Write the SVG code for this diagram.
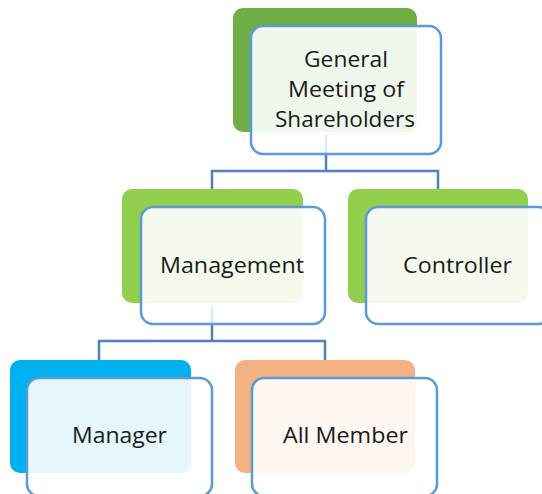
<svg xmlns="http://www.w3.org/2000/svg" width="542" height="494" viewBox="0 0 542 494">
  <style>
    .back { stroke: none; }
    .face { fill: #ffffff; stroke: none; }
    .tint { fill-opacity: 0.1; stroke: none; }
    .edge { fill: none; stroke: #5b9bd5; stroke-width: 2.5; }
    .label { font-family: "Open Sans", "Liberation Sans", sans-serif; font-size: 22px; fill: #1a1a1a; text-anchor: middle; }
    .link { fill: none; stroke: #4f81bd; stroke-width: 2.5; }
    .ghost { fill: none; stroke: #dfe9f5; stroke-width: 2.5; }
    .g-dark { fill: #70ad47; }
    .g-light { fill: #92d050; }
    .blue { fill: #00b0f0; }
    .peach { fill: #f4b183; }
  </style>

  <!-- back tabs sit under everything -->
  <g id="tabs">
    <rect class="back g-dark" x="233" y="8" width="184" height="124" rx="10"/>
    <rect class="back g-light" x="122" y="189" width="181" height="114" rx="10"/>
    <rect class="back g-light" x="348" y="189" width="180" height="114" rx="10"/>
    <rect class="back blue" x="10" y="360" width="181" height="113" rx="10"/>
    <rect class="back peach" x="235" y="360" width="180" height="113" rx="10"/>
  </g>

  <!-- elbow connectors -->
  <g id="connectors">
    <path class="link" d="M326 154 V171 M212 189 V171 H438 V189"/>
    <path class="link" d="M212 324 V341 M99 360 V341 H325 V360"/>
  </g>

  <g id="node-general-meeting">
    <rect class="face" x="251" y="26" width="190" height="128" rx="12"/>
    <path class="ghost" d="M326 135 V153"/>
    <rect class="tint g-dark" x="233" y="8" width="184" height="124" rx="10"/>
    <rect class="edge" x="251" y="26" width="190" height="128" rx="12"/>
    <text class="label" x="346" y="67" textLength="84" lengthAdjust="spacingAndGlyphs">General</text>
    <text class="label" x="346" y="97" textLength="116" lengthAdjust="spacingAndGlyphs">Meeting of</text>
    <text class="label" x="345" y="127" textLength="140" lengthAdjust="spacingAndGlyphs">Shareholders</text>
  </g>

  <g id="node-management">
    <rect class="face" x="141" y="207" width="184" height="117" rx="12"/>
    <path class="ghost" d="M212 306 V323"/>
    <rect class="tint g-light" x="122" y="189" width="181" height="114" rx="10"/>
    <rect class="edge" x="141" y="207" width="184" height="117" rx="12"/>
    <text class="label" x="232" y="273" textLength="144" lengthAdjust="spacingAndGlyphs">Management</text>
  </g>

  <g id="node-controller">
    <rect class="face" x="366" y="207" width="184" height="117" rx="12"/>
    <rect class="tint g-light" x="348" y="189" width="180" height="114" rx="10"/>
    <rect class="edge" x="366" y="207" width="184" height="117" rx="12"/>
    <text class="label" x="457.5" y="273" textLength="109" lengthAdjust="spacingAndGlyphs">Controller</text>
  </g>

  <g id="node-manager">
    <rect class="face" x="27" y="378" width="185" height="118" rx="12"/>
    <rect class="tint blue" x="10" y="360" width="181" height="113" rx="10"/>
    <rect class="edge" x="27" y="378" width="185" height="118" rx="12"/>
    <text class="label" x="119.5" y="443" textLength="95" lengthAdjust="spacingAndGlyphs">Manager</text>
  </g>

  <g id="node-all-member">
    <rect class="face" x="252" y="378" width="185" height="118" rx="12"/>
    <rect class="tint peach" x="235" y="360" width="180" height="113" rx="10"/>
    <rect class="edge" x="252" y="378" width="185" height="118" rx="12"/>
    <text class="label" x="345.5" y="443" textLength="125" lengthAdjust="spacingAndGlyphs">All Member</text>
  </g>
</svg>
